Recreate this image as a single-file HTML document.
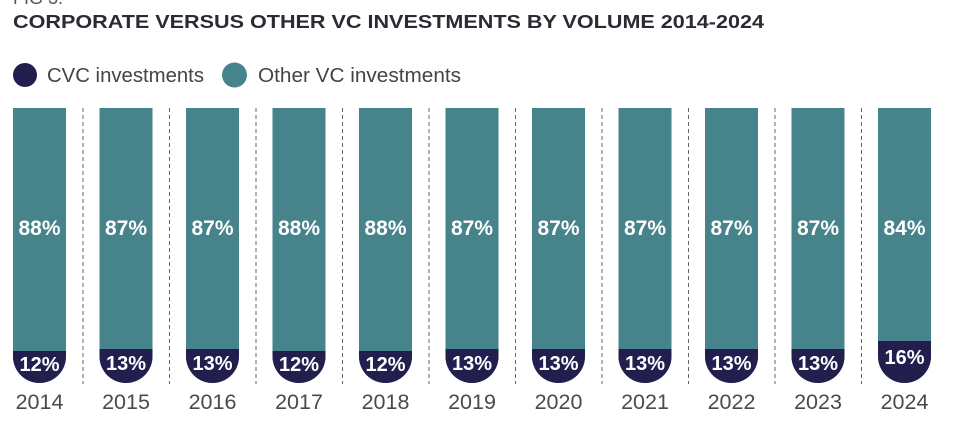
<!DOCTYPE html>
<html><head><meta charset="utf-8"><style>
html,body{margin:0;padding:0;background:#fff;width:956px;height:448px;overflow:hidden}
svg{display:block}
</style></head><body>
<svg width="956" height="448" viewBox="0 0 956 448" xmlns="http://www.w3.org/2000/svg" font-family="Liberation Sans, sans-serif">
<text x="13" y="4" font-size="18" fill="#555">FIG 3.</text>
<text x="13" y="28" font-size="18" font-weight="bold" fill="#2b2b33" textLength="751" lengthAdjust="spacingAndGlyphs">CORPORATE VERSUS OTHER VC INVESTMENTS BY VOLUME 2014-2024</text>
<circle cx="25" cy="75" r="12" fill="#221f4e"/>
<text x="47" y="82" font-size="20" fill="#444" textLength="157" lengthAdjust="spacingAndGlyphs">CVC investments</text>
<circle cx="234.5" cy="75" r="12.5" fill="#47838a"/>
<text x="258" y="82" font-size="20" fill="#444" textLength="203" lengthAdjust="spacingAndGlyphs">Other VC investments</text>
<g stroke="#666" stroke-width="1" stroke-dasharray="4 3">
<line x1="83" y1="108" x2="83" y2="384"/>
<line x1="169.5" y1="108" x2="169.5" y2="384"/>
<line x1="256" y1="108" x2="256" y2="384"/>
<line x1="342.5" y1="108" x2="342.5" y2="384"/>
<line x1="429" y1="108" x2="429" y2="384"/>
<line x1="515.5" y1="108" x2="515.5" y2="384"/>
<line x1="602" y1="108" x2="602" y2="384"/>
<line x1="688.5" y1="108" x2="688.5" y2="384"/>
<line x1="775" y1="108" x2="775" y2="384"/>
<line x1="861.5" y1="108" x2="861.5" y2="384"/>
</g>
<defs>
<clipPath id="b"><path d="M0,0 H53 V248.5 A26.5,26.5 0 0 1 0,248.5 Z"/></clipPath>
</defs>
<g transform="translate(13,108)"><g clip-path="url(#b)"><rect width="53" height="275" fill="#47838a"/><rect y="243" width="53" height="40" fill="#221f4e"/></g>
<text x="26.5" y="127" font-size="21" font-weight="bold" fill="#fff" text-anchor="middle">88%</text>
<text x="26.5" y="263" font-size="20" font-weight="bold" fill="#fff" text-anchor="middle">12%</text>
<text x="26.5" y="301" font-size="21.5" fill="#4a4a4a" text-anchor="middle">2014</text></g>
<g transform="translate(99.5,108)"><g clip-path="url(#b)"><rect width="53" height="275" fill="#47838a"/><rect y="241" width="53" height="40" fill="#221f4e"/></g>
<text x="26.5" y="127" font-size="21" font-weight="bold" fill="#fff" text-anchor="middle">87%</text>
<text x="26.5" y="262" font-size="20" font-weight="bold" fill="#fff" text-anchor="middle">13%</text>
<text x="26.5" y="301" font-size="21.5" fill="#4a4a4a" text-anchor="middle">2015</text></g>
<g transform="translate(186,108)"><g clip-path="url(#b)"><rect width="53" height="275" fill="#47838a"/><rect y="241" width="53" height="40" fill="#221f4e"/></g>
<text x="26.5" y="127" font-size="21" font-weight="bold" fill="#fff" text-anchor="middle">87%</text>
<text x="26.5" y="262" font-size="20" font-weight="bold" fill="#fff" text-anchor="middle">13%</text>
<text x="26.5" y="301" font-size="21.5" fill="#4a4a4a" text-anchor="middle">2016</text></g>
<g transform="translate(272.5,108)"><g clip-path="url(#b)"><rect width="53" height="275" fill="#47838a"/><rect y="243" width="53" height="40" fill="#221f4e"/></g>
<text x="26.5" y="127" font-size="21" font-weight="bold" fill="#fff" text-anchor="middle">88%</text>
<text x="26.5" y="263" font-size="20" font-weight="bold" fill="#fff" text-anchor="middle">12%</text>
<text x="26.5" y="301" font-size="21.5" fill="#4a4a4a" text-anchor="middle">2017</text></g>
<g transform="translate(359,108)"><g clip-path="url(#b)"><rect width="53" height="275" fill="#47838a"/><rect y="243" width="53" height="40" fill="#221f4e"/></g>
<text x="26.5" y="127" font-size="21" font-weight="bold" fill="#fff" text-anchor="middle">88%</text>
<text x="26.5" y="263" font-size="20" font-weight="bold" fill="#fff" text-anchor="middle">12%</text>
<text x="26.5" y="301" font-size="21.5" fill="#4a4a4a" text-anchor="middle">2018</text></g>
<g transform="translate(445.5,108)"><g clip-path="url(#b)"><rect width="53" height="275" fill="#47838a"/><rect y="241" width="53" height="40" fill="#221f4e"/></g>
<text x="26.5" y="127" font-size="21" font-weight="bold" fill="#fff" text-anchor="middle">87%</text>
<text x="26.5" y="262" font-size="20" font-weight="bold" fill="#fff" text-anchor="middle">13%</text>
<text x="26.5" y="301" font-size="21.5" fill="#4a4a4a" text-anchor="middle">2019</text></g>
<g transform="translate(532,108)"><g clip-path="url(#b)"><rect width="53" height="275" fill="#47838a"/><rect y="241" width="53" height="40" fill="#221f4e"/></g>
<text x="26.5" y="127" font-size="21" font-weight="bold" fill="#fff" text-anchor="middle">87%</text>
<text x="26.5" y="262" font-size="20" font-weight="bold" fill="#fff" text-anchor="middle">13%</text>
<text x="26.5" y="301" font-size="21.5" fill="#4a4a4a" text-anchor="middle">2020</text></g>
<g transform="translate(618.5,108)"><g clip-path="url(#b)"><rect width="53" height="275" fill="#47838a"/><rect y="241" width="53" height="40" fill="#221f4e"/></g>
<text x="26.5" y="127" font-size="21" font-weight="bold" fill="#fff" text-anchor="middle">87%</text>
<text x="26.5" y="262" font-size="20" font-weight="bold" fill="#fff" text-anchor="middle">13%</text>
<text x="26.5" y="301" font-size="21.5" fill="#4a4a4a" text-anchor="middle">2021</text></g>
<g transform="translate(705,108)"><g clip-path="url(#b)"><rect width="53" height="275" fill="#47838a"/><rect y="241" width="53" height="40" fill="#221f4e"/></g>
<text x="26.5" y="127" font-size="21" font-weight="bold" fill="#fff" text-anchor="middle">87%</text>
<text x="26.5" y="262" font-size="20" font-weight="bold" fill="#fff" text-anchor="middle">13%</text>
<text x="26.5" y="301" font-size="21.5" fill="#4a4a4a" text-anchor="middle">2022</text></g>
<g transform="translate(791.5,108)"><g clip-path="url(#b)"><rect width="53" height="275" fill="#47838a"/><rect y="241" width="53" height="40" fill="#221f4e"/></g>
<text x="26.5" y="127" font-size="21" font-weight="bold" fill="#fff" text-anchor="middle">87%</text>
<text x="26.5" y="262" font-size="20" font-weight="bold" fill="#fff" text-anchor="middle">13%</text>
<text x="26.5" y="301" font-size="21.5" fill="#4a4a4a" text-anchor="middle">2023</text></g>
<g transform="translate(878,108)"><g clip-path="url(#b)"><rect width="53" height="275" fill="#47838a"/><rect y="233" width="53" height="50" fill="#221f4e"/></g>
<text x="26.5" y="127" font-size="21" font-weight="bold" fill="#fff" text-anchor="middle">84%</text>
<text x="26.5" y="256" font-size="20" font-weight="bold" fill="#fff" text-anchor="middle">16%</text>
<text x="26.5" y="301" font-size="21.5" fill="#4a4a4a" text-anchor="middle">2024</text></g>
</svg>
</body></html>
